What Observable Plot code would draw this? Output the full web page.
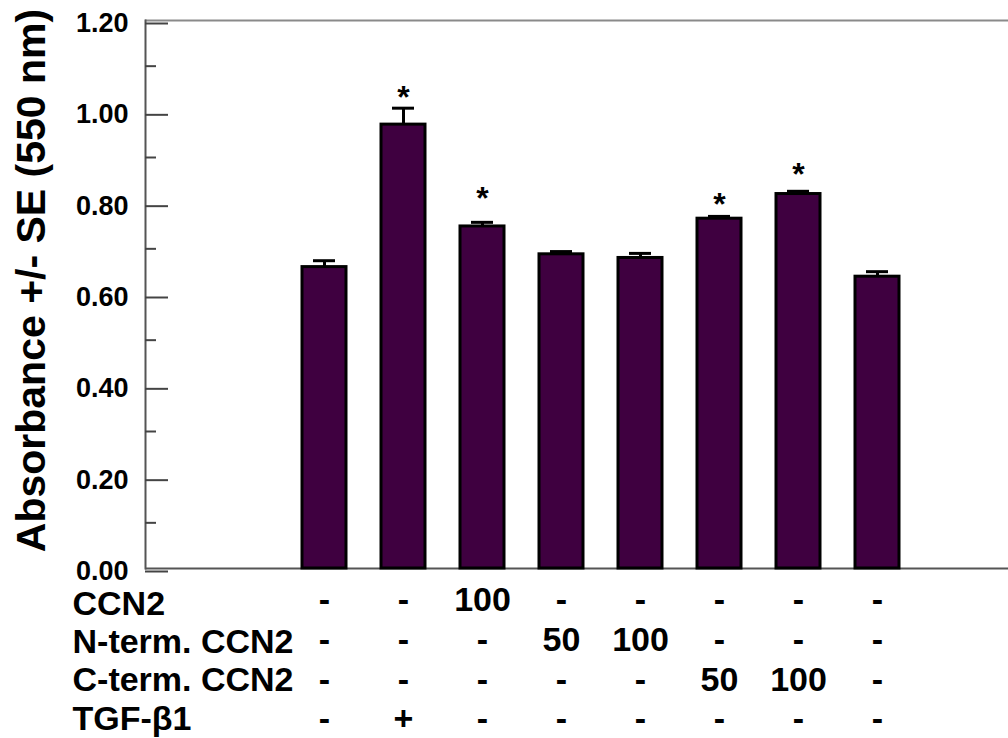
<!DOCTYPE html>
<html>
<head>
<meta charset="utf-8">
<script src="https://cdn.jsdelivr.net/npm/d3@7"></script>
<script src="https://cdn.jsdelivr.net/npm/@observablehq/plot@0.6"></script>
<style>
  html, body { margin: 0; padding: 0; background: #fff; }
  #chart svg { display: block; }
</style>
</head>
<body>
<div id="chart"></div>
<script>
// ---- data ----
const groups = ["g1", "g2", "g3", "g4", "g5", "g6", "g7", "g8"];
const means  = [0.660, 0.972, 0.749, 0.688, 0.680, 0.766, 0.820, 0.639];
const errors = [0.014, 0.036, 0.009, 0.006, 0.010, 0.005, 0.006, 0.011];
const significant = [false, true, true, false, false, true, true, false];
const starAt = [null, 1.040, 0.819, null, null, 0.806, 0.871, null];

const rowLabels = ["CCN2", "N-term. CCN2", "C-term. CCN2", "TGF-\u03B21"];
const ccn2Row  = ["-", "-", "100", "-", "-", "-", "-", "-"];
const ntermRow = ["-", "-", "-", "50", "100", "-", "-", "-"];
const ctermRow = ["-", "-", "-", "-", "-", "50", "100", "-"];
const tgfRow   = ["-", "+", "-", "-", "-", "-", "-", "-"];

const majorTicks = [0, 0.2, 0.4, 0.6, 0.8, 1.0, 1.2];
const minorTicks = [0.1, 0.3, 0.5, 0.7, 0.9, 1.1];
const yLabel = "Absorbance +/- SE (550 nm)";

// ---- build table ----
const data = groups.map((g, i) => ({group: g, mean: means[i], se: errors[i], sig: significant[i], star: starAt[i]}));
const rows = [ccn2Row, ntermRow, ctermRow, tgfRow];
const rowValueDy = [32, 72, 112, 151];
const rowLabelDy = [36, 74, 112, 151];

const tableMarks = [];
rows.forEach((row, r) => {
  tableMarks.push(Plot.text(groups, {
    x: d => d, text: (d, i) => row[i], frameAnchor: "bottom",
    dy: rowValueDy[r], fontSize: 34, fontWeight: "bold", fill: "black", lineAnchor: "middle"
  }));
  tableMarks.push(Plot.text([rowLabels[r]], {
    frameAnchor: "bottom-left", textAnchor: "start", dx: -73, dy: rowLabelDy[r],
    fontSize: 34, fontWeight: "bold", fill: "black", lineAnchor: "middle"
  }));
});

const chart = Plot.plot({
  width: 1008,
  height: 738,
  marginLeft: 145,
  marginRight: 0,
  marginTop: 20,
  marginBottom: 170,
  style: {fontFamily: "'Liberation Sans', Arial, sans-serif", background: "#fff", overflow: "visible"},
  x: {domain: groups, range: [284.5, 916.5], paddingInner: 0.44, paddingOuter: 0.22, axis: null},
  y: {domain: [0, 1.2]},
  marks: [
    Plot.ruleY([1.2], {stroke: "#8a8a8a", strokeWidth: 2}),
    Plot.ruleY([0], {stroke: "#555", strokeWidth: 2}),
    Plot.frame({anchor: "left", stroke: "#555", strokeWidth: 2}),
    Plot.barY(data, {x: "group", y: "mean", fill: "#3f0040", stroke: "black", strokeWidth: 3}),
    Plot.ruleX(data, {x: "group", y1: "mean", y2: d => d.mean + d.se, stroke: "black", strokeWidth: 3}),
    Plot.tickY(data, {x: "group", y: d => d.mean + d.se, stroke: "black", strokeWidth: 3, inset: 11}),
    Plot.text(data.filter(d => d.sig), {x: "group", y: "star", text: () => "*", fontSize: 32, fontWeight: "bold", lineAnchor: "middle", dy: 4}),
    Plot.axisY({ticks: minorTicks, tickSize: -11, tickPadding: 0, tickFormat: () => "", stroke: "#444", strokeWidth: 2, label: null}),
    Plot.axisY({ticks: majorTicks, tickSize: -23, tickPadding: 40, tickFormat: d3.format(".2f"),
      stroke: "#444", strokeWidth: 2, fontSize: 27, fontWeight: "bold", fill: "black", label: null, dy: 3}),
    Plot.text([yLabel], {frameAnchor: "left", textAnchor: "middle", rotate: -90, dx: -114, dy: -14, fontSize: 41, fontWeight: "bold", fill: "black", lineAnchor: "middle"}),
    ...tableMarks
  ]
});
document.getElementById("chart").append(chart);
</script>
</body>
</html>
